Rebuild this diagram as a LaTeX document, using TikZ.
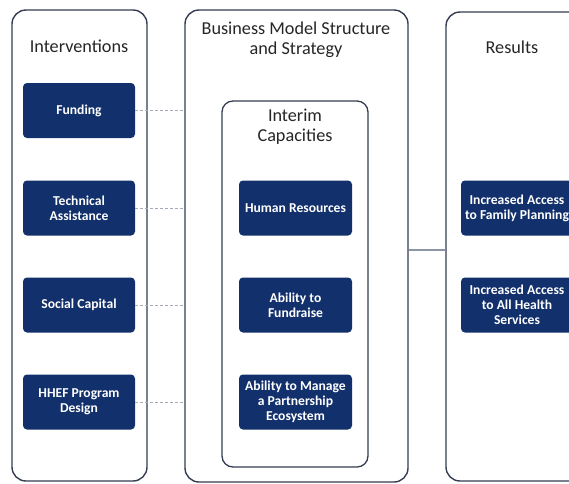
\documentclass[tikz,border=0pt]{standalone}
\usepackage{fontspec}
\setmainfont{Carlito}
\definecolor{navy}{HTML}{12306B}
\definecolor{frame}{HTML}{343D52}
\definecolor{link}{HTML}{8C95A6}
\begin{document}
\begin{tikzpicture}[x=1pt,y=-1pt,
  panel/.style={draw=frame, line width=1.4pt, rounded corners=14pt, inner sep=0pt},
  inner panel/.style={draw=frame, line width=1.3pt, rounded corners=11pt, inner sep=0pt},
  head/.style={font=\fontsize{18.2}{19.5}\selectfont, text=black!85, align=center},
  item/.style={fill=navy, rounded corners=4pt, text=white, align=center,
    font=\fontsize{13.6}{15}\selectfont\bfseries, minimum width=112pt, minimum height=55pt, inner sep=1pt},
  dash link/.style={draw=link!80, line width=0.8pt, dash pattern=on 3pt off 2pt},
  solid link/.style={draw=link, line width=1.6pt}]
\useasboundingbox (0,0) rectangle (569,483);
\clip (0,0) rectangle (569,483);
\fill[white] (0,0) rectangle (569,483);

% outer columns
\node[panel, minimum width=135pt, minimum height=471pt] (left) at (79.5,245.5) {};
\node[panel, minimum width=223pt, minimum height=472pt] (mid) at (296.5,246) {};
\node[panel, minimum width=160pt, minimum height=469pt] (right) at (526,246.5) {};
\node[inner panel, minimum width=146pt, minimum height=366pt] (inner) at (295,284) {};

% headings
\node[head] (hint) at (79,46) {Interventions};
\node[head] (hbus) at (296,39.5) {Business Model Structure\\and Strategy};
\node[head] (hcap) at (295,126.5) {Interim\\Capacities};
\node[head] (hres) at (512,47) {Results};

% interventions
\node[item] (fund) at (79,110.5) {Funding};
\node[item] (tech) at (79,208) {Technical\\Assistance};
\node[item] (soc)  at (79,305) {Social Capital};
\node[item] (hhef) at (79,402) {HHEF Program\\Design};

% interim capacities
\node[item, minimum width=113pt] (hr)   at (295.5,208) {Human Resources};
\node[item, minimum width=113pt] (fr)   at (295.5,305) {Ability to\\Fundraise};
\node[item, minimum width=113pt] (eco)  at (295.5,402) {Ability to Manage\\a Partnership\\Ecosystem};

% results
\node[item] (fp)  at (517,208) {Increased Access\\to Family Planning};
\node[item] (ahs) at (517,305) {Increased Access\\to All Health\\Services};

% links from interventions to the strategy column
\foreach \n in {fund,tech,soc,hhef}
  \draw[dash link] (\n.east) -- (\n.east -| mid.west);

% link from the strategy column to results
\draw[solid link] (mid.east |- 0,250) -- (right.west |- 0,250);
\end{tikzpicture}
\end{document}
